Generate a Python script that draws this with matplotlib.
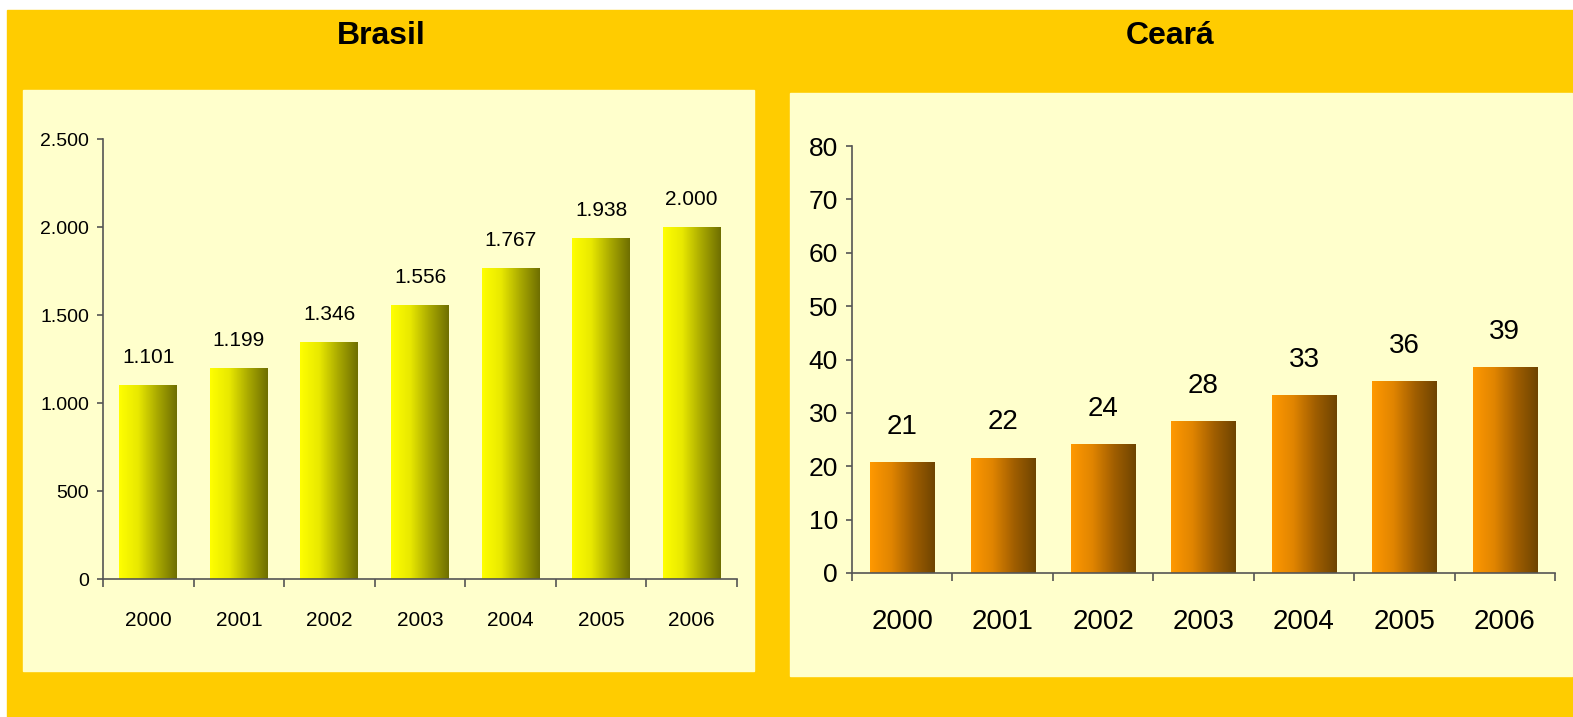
import matplotlib
matplotlib.use("Agg")
import matplotlib.pyplot as plt
import numpy as np
from matplotlib.colors import LinearSegmentedColormap
from matplotlib.patches import Rectangle
from matplotlib.ticker import FuncFormatter, FixedLocator

plt.rcParams['font.family'] = ['Liberation Sans Narrow', 'Liberation Sans', 'DejaVu Sans']

years = ['2000', '2001', '2002', '2003', '2004', '2005', '2006']
brasil = [1101, 1199, 1346, 1556, 1767, 1938, 2000]
ceara = [20.8, 21.6, 24.2, 28.4, 33.3, 36.0, 38.6]

GOLD = '#FFCC00'
PANEL = '#FFFFCC'

W, H = 1573, 717
fig = plt.figure(figsize=(W / 100, H / 100), dpi=100)
fig.patch.set_facecolor('white')


def px_rect(x0, y0, x1, y1, color):
    # rectangle given in pixel coords from top-left
    fig.patches.append(Rectangle((x0 / W, 1 - y1 / H), (x1 - x0) / W, (y1 - y0) / H,
                                 transform=fig.transFigure, color=color, zorder=-5))


px_rect(7, 10, W, H, GOLD)
px_rect(23, 90, 754, 671, PANEL)
px_rect(790, 93, 1572, 676, PANEL)

fig.text(381 / W, 1 - 36 / H, 'Brasil', ha='center', va='center',
         fontsize=23, fontweight='bold')
fig.text(1170 / W, 1 - 36 / H, 'Ceará', ha='center', va='center',
         fontsize=23, fontweight='bold')


def bar_panel(rect, values, ymax, step, cmap, fmt, tick_fs, lab_fs, val_fs,
              xpad, val_off):
    x0, y0, x1, y1 = rect
    ax = fig.add_axes([x0 / W, 1 - y1 / H, (x1 - x0) / W, (y1 - y0) / H])
    ax.set_facecolor('none')
    x = np.arange(len(values))
    bars = ax.bar(x, values, width=0.64, color='none', zorder=2)
    grad = np.linspace(0, 1, 256).reshape(1, -1)
    for b in bars:
        im = ax.imshow(grad, cmap=cmap, aspect='auto', zorder=2,
                       extent=(b.get_x(), b.get_x() + b.get_width(), 0, b.get_height()))
        im.set_clip_path(b)
    for xi, v in zip(x, values):
        ax.annotate(fmt(v), (xi, v), xytext=(0, val_off), textcoords='offset points',
                    ha='center', va='bottom', fontsize=val_fs)
    ax.set_xlim(-0.5, len(values) - 0.5)
    ax.set_ylim(0, ymax)
    ax.set_yticks(np.arange(0, ymax + 1, step))
    ax.yaxis.set_major_formatter(FuncFormatter(lambda v, p: f"{int(v):,}".replace(',', '.')))
    ax.set_xticks(x)
    ax.set_xticklabels(years)
    ax.xaxis.set_minor_locator(FixedLocator(np.arange(-0.5, len(values), 1)))
    ax.tick_params(axis='x', which='major', length=0, pad=xpad, labelsize=lab_fs)
    ax.tick_params(axis='x', which='minor', length=6, width=1.2, color='#555555')
    ax.tick_params(axis='y', length=4, width=1.2, color='#555555', pad=6, labelsize=tick_fs)
    for s in ['top', 'right']:
        ax.spines[s].set_visible(False)
    for s in ['left', 'bottom']:
        ax.spines[s].set_color('#555555')
        ax.spines[s].set_linewidth(1.2)
    return ax


yellow = LinearSegmentedColormap.from_list('yel', ['#FFFF00', '#E8E800', '#A8A800', '#6E6E00'])
orange = LinearSegmentedColormap.from_list('org', ['#FF9900', '#E08400', '#A05E00', '#6E4400'])

bar_panel((103, 139, 737, 579), brasil, 2500, 500, yellow,
          lambda v: f"{int(v):,}".replace(',', '.'), 14, 15, 15, 23, 13)
bar_panel((852, 146, 1555, 573), ceara, 80, 10, orange,
          lambda v: f"{v:.0f}", 19, 20, 20, 26, 16)

fig.savefig('out.png', dpi=100, facecolor=fig.get_facecolor())
